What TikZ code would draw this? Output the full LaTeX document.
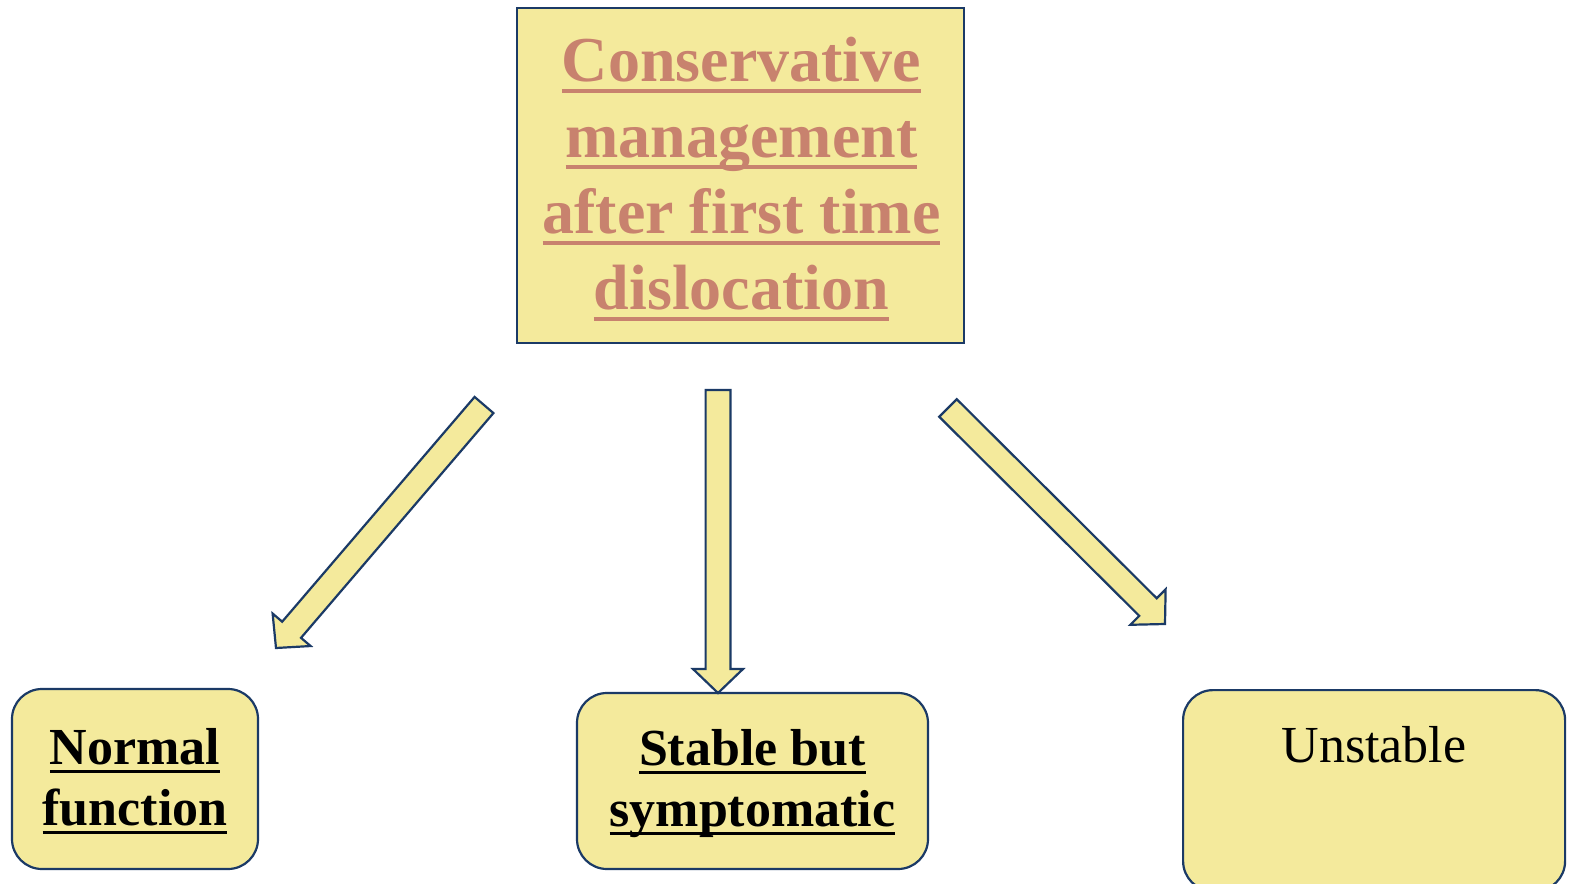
\documentclass[tikz,border=0pt]{standalone}
\usepackage{fontspec}
\setmainfont{Liberation Serif}
\usetikzlibrary{calc}
\definecolor{boxfill}{HTML}{F4EA9C}
\definecolor{boxline}{HTML}{1B3A66}
\definecolor{titlecol}{HTML}{C8826E}
\newlength\ulw
\newcommand{\ulx}[3]{\settowidth{\ulw}{#1}\rlap{\rule[-#2]{\ulw}{#3}}#1}
\tikzset{
  sqbox/.style={draw=boxline, fill=boxfill, line width=1.1pt, rectangle, inner sep=0pt},
  rbox/.style={draw=boxline, fill=boxfill, line width=1.1pt, rectangle, rounded corners=15pt, inner sep=0pt},
  arrowshape/.style={draw=boxline, fill=boxfill, line width=1.1pt, line join=miter},
  titletext/.style={font=\fontsize{32pt}{38pt}\selectfont\bfseries, text=titlecol, align=center},
  boldtext/.style={font=\fontsize{26pt}{30.5pt}\selectfont\bfseries, text=black, align=center},
  plaintext/.style={font=\fontsize{26pt}{30.5pt}\selectfont, text=black, align=center}
}
\newcommand{\blockarrow}[2]{%
  \coordinate (#1h) at ($(#2)!12pt!(#1)$);
  \path[arrowshape] ($(#1)!6.2pt!90:(#2)$) -- ($(#1h)!6.2pt!-90:(#1)$)
    -- ($(#1h)!12.5pt!-90:(#1)$) -- (#2) -- ($(#1h)!12.5pt!90:(#1)$)
    -- ($(#1h)!6.2pt!90:(#1)$) -- ($(#1)!6.2pt!-90:(#2)$) -- cycle;
}
\begin{document}
\begin{tikzpicture}[x=0.5pt, y=-0.5pt]
\useasboundingbox (0,0) rectangle (1571,884);
\clip (0,0) rectangle (1571,884);
% top box
\node[sqbox, minimum width=223.5pt, minimum height=167.5pt] (topbox) at (740.5,175.5) {};
\node[titletext] (toptext) at (741.5,179) {\ulx{Conservative}{5.75pt}{2pt}\\\ulx{management}{5.75pt}{2pt}\\\ulx{after first time}{5.75pt}{2pt}\\\ulx{dislocation}{5.75pt}{2pt}};
% bottom boxes
\node[rbox, minimum width=123pt, minimum height=90pt] (normal) at (135,779) {};
\node[boldtext] (normaltext) at (135,781) {\ulx{Normal}{4pt}{1.5pt}\\\ulx{function}{4pt}{1.5pt}};
\node[rbox, minimum width=175.5pt, minimum height=88pt] (stable) at (752.5,781) {};
\node[boldtext] (stabletext) at (752.5,784) {\ulx{Stable but}{4pt}{1.5pt}\\\ulx{symptomatic}{4pt}{1.5pt}};
\node[rbox, minimum width=191pt, minimum height=100.5pt, anchor=north west] (unstable) at (1182,689) {};
\node[plaintext, anchor=base] (unstabletext) at (1374,762) {Unstable};
% arrows
\coordinate (aonestart) at (484,405); \coordinate (aoneend) at (276,648);
\coordinate (atwostart) at (718,390); \coordinate (atwoend) at (718,693);
\coordinate (athreestart) at (948,408); \coordinate (athreeend) at (1165,624);
\blockarrow{aonestart}{aoneend}
\blockarrow{atwostart}{atwoend}
\blockarrow{athreestart}{athreeend}
\end{tikzpicture}
\end{document}
